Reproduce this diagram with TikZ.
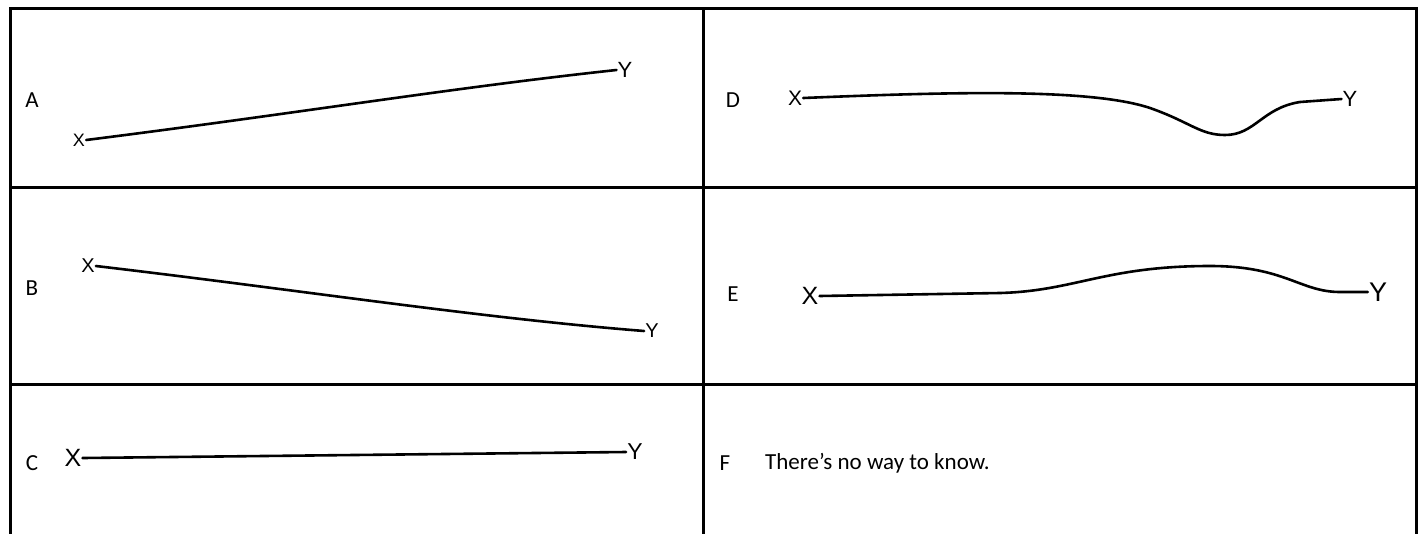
\documentclass[tikz,border=0pt]{standalone}
\usepackage{fontspec}
\setmainfont{Carlito}
\newfontfamily\endfont{Liberation Sans}
\usepackage{tikz}
\usetikzlibrary{calc,positioning}
\tikzset{
  grid/.style={draw=black, line width=3pt},
  tag/.style={font=\fontsize{23}{26}\selectfont, inner sep=0pt},
  endpt/.style={font=\endfont\fontsize{20}{22}\selectfont, inner sep=1pt},
  curve/.style={draw=black, line width=2.6pt, line cap=round, line join=round}
}

\begin{document}
\begin{tikzpicture}[x=1pt, y=-1pt]
  \useasboundingbox (0,0) rectangle (1418,533);
  % table rules
  \draw[grid] (10,540) -- (10,8) -- (1416,8) -- (1416,540);
  \draw[grid] (703,8) -- (703,540);
  \draw[grid] (10,187) -- (1416,187);
  \draw[grid] (10,384) -- (1416,384);

  % row letters
  \node[tag] (la) at (32,100) {A};
  \node[tag] (lb) at (32,288) {B};
  \node[tag] (lc) at (32,463) {C};
  \node[tag] (ld) at (733,100) {D};
  \node[tag] (le) at (733,294) {E};
  \node[tag] (lf) at (725,463) {F};
  \node[tag, anchor=west] (note) at (765,463) {There’s no way to know.};

  % A
  \node[endpt, font=\endfont\fontsize{18}{20}\selectfont] (ax) at (79,140) {X};
  \node[endpt, font=\endfont\fontsize{22}{24}\selectfont] (ay) at (625,70) {Y};
  \draw[curve] (ax.east) .. controls (300,113) and (450,88) .. (ay.west);
  % B
  \node[endpt] (bx) at (88,266) {X};
  \node[endpt] (by) at (652,331) {Y};
  \draw[curve] (bx.east) .. controls (300,290) and (480,318) .. (by.west);
  % C
  \node[endpt, font=\endfont\fontsize{25}{27}\selectfont] (cx) at (73,458) {X};
  \node[endpt, font=\endfont\fontsize{23}{25}\selectfont] (cy) at (635,452) {Y};
  \draw[curve] (cx.east) -- (cy.west);
  % D
  \node[endpt, font=\endfont\fontsize{21}{23}\selectfont] (dx) at (795,98) {X};
  \node[endpt, font=\endfont\fontsize{22}{24}\selectfont] (dy) at (1350,99) {Y};
  \draw[curve] (dx.east) .. controls (950,92) and (1090,88) .. (1150,108)
    .. controls (1190,122) and (1200,135) .. (1225,135)
    .. controls (1255,135) and (1262,108) .. (1300,102)
    .. controls (1320,100) .. (dy.west);
  % E
  \node[endpt, font=\endfont\fontsize{25}{27}\selectfont] (ex) at (810,296) {X};
  \node[endpt, font=\endfont\fontsize{27}{29}\selectfont] (ey) at (1378,292) {Y};
  \draw[curve] (ex.east) -- (1000,293) .. controls (1075,291) and (1105,266) .. (1210,266)
    .. controls (1285,266) and (1300,292) .. (1340,292) -- (ey.west);
\end{tikzpicture}
\end{document}
